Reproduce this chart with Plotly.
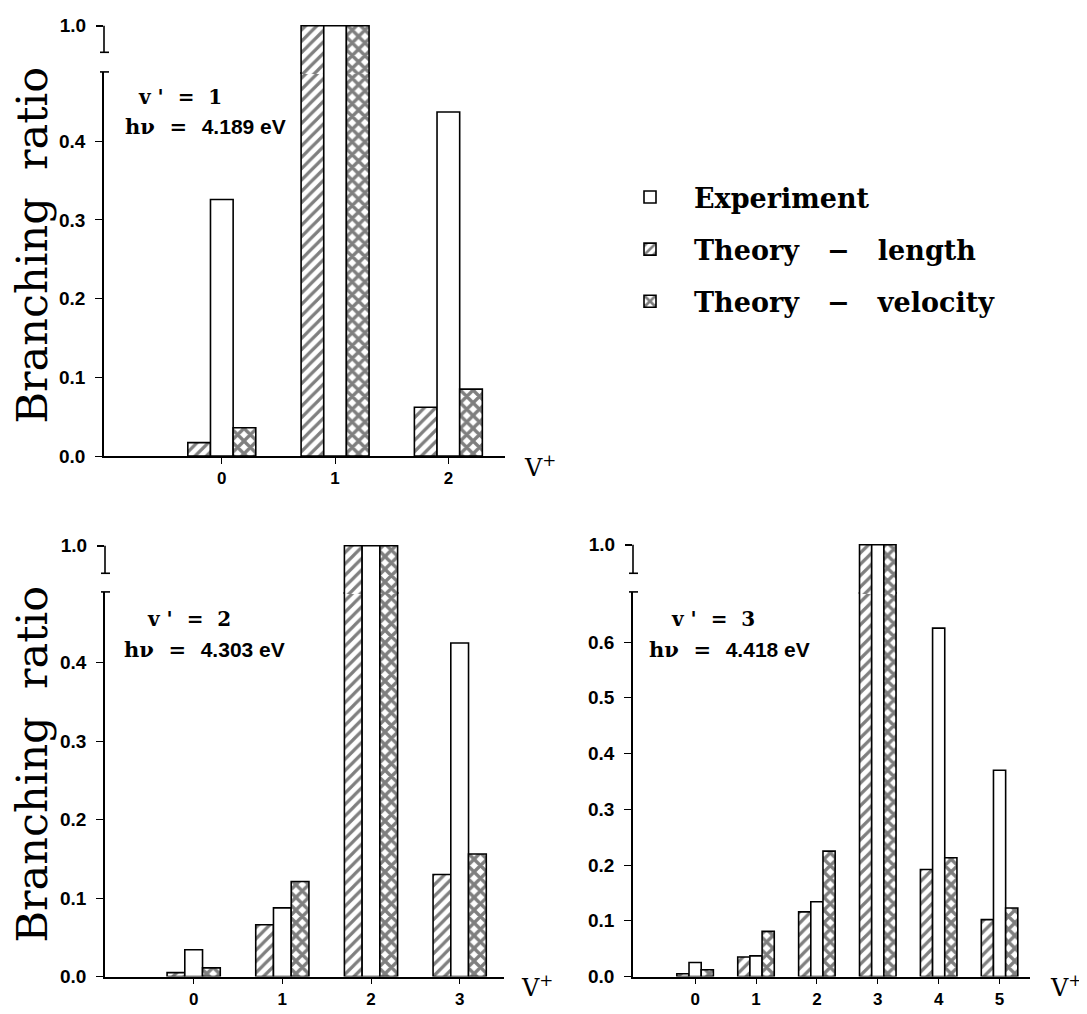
import plotly.graph_objects as go

# the page has an 8px body margin, so the figure sits at (8, 8) in the window
OFF = 8
FW, FH = 1087 - OFF, 1014 - OFF

# ---------------- data ----------------
vplus_1 = [0, 1, 2]
exp_1 = [0.326, 1.0, 0.437]
len_1 = [0.017, 1.0, 0.062]
vel_1 = [0.036, 1.0, 0.085]

vplus_2 = [0, 1, 2, 3]
exp_2 = [0.034, 0.0875, 1.0, 0.425]
len_2 = [0.005, 0.066, 1.0, 0.130]
vel_2 = [0.011, 0.121, 1.0, 0.156]

vplus_3 = [0, 1, 2, 3, 4, 5]
exp_3 = [0.025, 0.037, 0.134, 1.0, 0.625, 0.370]
len_3 = [0.005, 0.035, 0.116, 1.0, 0.192, 0.102]
vel_3 = [0.012, 0.081, 0.225, 1.0, 0.213, 0.123]

lower_ticks_12 = [0.0, 0.1, 0.2, 0.3, 0.4]
lower_ticks_3 = [0.0, 0.1, 0.2, 0.3, 0.4, 0.5, 0.6]
panel_labels = [("1", "4.189"), ("2", "4.303"), ("3", "4.418")]
series_names = ["Experiment",
                "Theory &nbsp;&nbsp;\u2212&nbsp;&nbsp; length",
                "Theory &nbsp;&nbsp;\u2212&nbsp;&nbsp; velocity"]


def px(x):
    return (x - OFF) / FW


def py(y):
    return 1 - (y - OFF) / FH


SANS = "Liberation Sans"
SERIF = "DejaVu Serif"

fig = go.Figure()

panels = [
    dict(v=vplus_1, e=exp_1, l=len_1, c=vel_1, xa="x", yl="y", yu="y2",
         x0=104, x1=505, xr=[-1.04, 2.5], base=456.5, ltop=65, cap=45, top1=18,
         lr=0.488, ticks=lower_ticks_12),
    dict(v=vplus_2, e=exp_2, l=len_2, c=vel_2, xa="x2", yl="y3", yu="y4",
         x0=105, x1=504, xr=[-1.0, 3.5], base=987, ltop=595, cap=576, top1=548,
         lr=0.49, ticks=lower_ticks_12),
    dict(v=vplus_3, e=exp_3, l=len_3, c=vel_3, xa="x3", yl="y5", yu="y6",
         x0=633, x1=1030, xr=[-1.02, 5.5], base=987, ltop=595, cap=576, top1=547,
         lr=0.69, ticks=lower_ticks_3),
]

hatch = dict(shape="/", fgcolor="black", bgcolor="white", size=8, solidity=0.4)
cross = dict(shape="x", fgcolor="black", bgcolor="white", size=9, solidity=0.6)
line = dict(color="black", width=1.6)

for i, p in enumerate(panels):
    for yax in (p["yl"], p["yu"]):
        show = (i == 0 and yax == p["yl"])
        fig.add_trace(go.Bar(x=p["v"], y=p["l"], width=0.2, offset=-0.3,
                             xaxis=p["xa"], yaxis=yax, name=series_names[1],
                             legendrank=2, showlegend=show, legendgroup="l",
                             marker=dict(color="white", pattern=hatch, line=line)))
        fig.add_trace(go.Bar(x=p["v"], y=p["e"], width=0.2, offset=-0.1,
                             xaxis=p["xa"], yaxis=yax, name=series_names[0],
                             legendrank=1, showlegend=show, legendgroup="e",
                             marker=dict(color="white", line=line)))
        fig.add_trace(go.Bar(x=p["v"], y=p["c"], width=0.2, offset=0.1,
                             xaxis=p["xa"], yaxis=yax, name=series_names[2],
                             legendrank=3, showlegend=show, legendgroup="c",
                             marker=dict(color="white", pattern=cross, line=line)))

layout = dict(
    width=FW, height=FH, margin=dict(l=0, r=0, t=0, b=0),
    paper_bgcolor="white", plot_bgcolor="rgba(0,0,0,0)",
    barmode="overlay", showlegend=True,
    legend=dict(x=px(606), y=py(168), xanchor="left", yanchor="top",
                font=dict(family=SERIF, size=27, color="black", weight="bold"),
                traceorder="grouped", tracegroupgap=14, itemwidth=78,
                bgcolor="rgba(0,0,0,0)"),
)

U0, U1 = 0.9, 1.0043
shapes = []
annotations = []
for i, p in enumerate(panels):
    xn = "xaxis" + ("" if p["xa"] == "x" else p["xa"][1:])
    yln = "yaxis" + ("" if p["yl"] == "y" else p["yl"][1:])
    yun = "yaxis" + p["yu"][1:]
    # upper (broken) segment overlaps the lower plot area by 2px so tall bars look continuous
    ubot = p["ltop"] + 2
    utop = ubot - (ubot - p["top1"]) * (U1 - U0) / (1.0 - U0)
    layout[xn] = dict(domain=[px(p["x0"]), px(p["x1"])], anchor=p["yl"], range=p["xr"],
                      tickvals=p["v"], ticktext=[str(v) for v in p["v"]],
                      showline=True, linecolor="black", linewidth=1.6,
                      ticks="outside", ticklen=6, tickwidth=1.3, tickcolor="black",
                      showgrid=False, zeroline=False,
                      tickfont=dict(family=SANS, size=17, color="black", weight="bold"))
    layout[yln] = dict(domain=[py(p["base"]), py(p["ltop"])], anchor=p["xa"],
                       range=[0, p["lr"]], tickvals=p["ticks"],
                       ticktext=["%.1f" % t for t in p["ticks"]],
                       showline=True, linecolor="black", linewidth=1.6,
                       ticks="outside", ticklen=7, tickwidth=1.3, tickcolor="black",
                       ticklabelstandoff=6,
                       showgrid=False, zeroline=False,
                       tickfont=dict(family=SANS, size=19, color="black", weight="bold"))
    layout[yun] = dict(domain=[py(ubot), py(utop)], anchor=p["xa"],
                       range=[U0, U1], tickvals=[1.0], ticktext=["1.0"],
                       showline=False, ticks="outside", ticklen=7, tickwidth=1.6,
                       tickcolor="black", showgrid=False, zeroline=False,
                       ticklabelstandoff=6,
                       tickfont=dict(family=SANS, size=19, color="black", weight="bold"))
    ax = p["x0"]
    shapes.append(dict(type="line", xref="paper", yref="paper",
                       x0=px(ax), x1=px(ax), y0=py(p["top1"]), y1=py(p["cap"]),
                       line=dict(color="black", width=1.6)))
    shapes.append(dict(type="line", xref="paper", yref="paper",
                       x0=px(ax - 4), x1=px(ax + 5), y0=py(p["cap"]), y1=py(p["cap"]),
                       line=dict(color="black", width=1.6)))
    shapes.append(dict(type="line", xref="paper", yref="paper",
                       x0=px(ax - 4), x1=px(ax + 5), y0=py(p["ltop"]), y1=py(p["ltop"]),
                       line=dict(color="black", width=1.6)))

lab_pos = [((180, 91), (205, 121)), ((189, 623), (204, 654)), ((713, 623), (729, 654))]
for (vp, e), ((ax1, ay1), (ax2, ay2)) in zip(panel_labels, lab_pos):
    annotations.append(dict(xref="paper", yref="paper", x=px(ax1), y=py(ay1),
                            xanchor="center", yanchor="middle",
                            text="v &#39; &nbsp;= &nbsp;" + vp, showarrow=False,
                            font=dict(family=SERIF, size=20, color="black", weight="bold")))
    annotations.append(dict(xref="paper", yref="paper", x=px(ax2), y=py(ay2),
                            xanchor="center", yanchor="middle",
                            text="h\u03bd &nbsp;= &nbsp;<span style='font-family:Liberation Sans'>"
                                 + e + " eV</span>",
                            showarrow=False,
                            font=dict(family=SERIF, size=21, color="black", weight="bold")))

for yc in (242, 771):
    annotations.append(dict(xref="paper", yref="paper", x=px(32), y=py(yc),
                            xanchor="center", yanchor="middle",
                            text="Branching &nbsp;ratio", textangle=-90, showarrow=False,
                            font=dict(family=SERIF, size=43, color="black")))

for (vx, vy) in ((540, 467), (537, 997), (1066, 997)):
    annotations.append(dict(xref="paper", yref="paper", x=px(vx), y=py(vy),
                            xanchor="center", yanchor="middle",
                            text="V<sup>+</sup>", showarrow=False,
                            font=dict(family=SERIF, size=24, color="black")))

layout["shapes"] = shapes
layout["annotations"] = annotations
fig.update_layout(**layout)
fig.write_html("out.html")
